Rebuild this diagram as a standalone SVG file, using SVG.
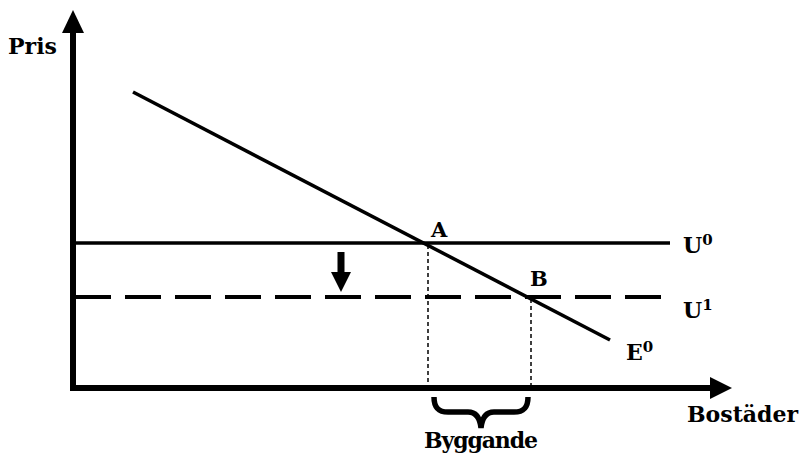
<svg xmlns="http://www.w3.org/2000/svg" width="803" height="455" viewBox="0 0 803 455">
<style>
.lbl{font-family:"DejaVu Serif","Liberation Serif",serif;font-weight:bold;fill:#000;font-size:22px}
.sm{font-size:21px}
.sup{font-size:15px}
.ln{stroke:#000;fill:none}
</style>
<rect width="803" height="455" fill="#fff"/>
<g id="connectors">
  <line class="ln" x1="73" y1="30" x2="73" y2="391" stroke-width="6"/>
  <polygon points="73,10 62,33 84,33" fill="#000"/>
  <line class="ln" x1="70" y1="388" x2="712" y2="388" stroke-width="6"/>
  <polygon points="732,388 710,377 710,399" fill="#000"/>
  <line class="ln" x1="73" y1="243" x2="670" y2="243" stroke-width="3.5"/>
  <line class="ln" x1="75" y1="297" x2="663" y2="297" stroke-width="4" stroke-dasharray="36 14"/>
  <line class="ln" x1="133" y1="92" x2="610" y2="340" stroke-width="3.5"/>
  <line class="ln" x1="428" y1="245" x2="428" y2="386" stroke-width="1.5" stroke-dasharray="4 3"/>
  <line class="ln" x1="531" y1="299" x2="531" y2="386" stroke-width="1.5" stroke-dasharray="4 3"/>
  <rect x="337.5" y="252" width="7" height="21" fill="#000"/>
  <polygon points="331,272 351,272 341,292" fill="#000"/>
  <path class="ln" stroke-width="5.5" d="M434,397 C434,407 438,412 448,412 L468,412 C476,412 480,418 481,428 C482,418 486,412 494,412 L514,412 C524,412 528,407 528,397"/>
</g>
<g id="pris"><text class="lbl" x="8" y="54">Pris</text></g>
<g id="A"><text class="lbl sm" x="431" y="237">A</text></g>
<g id="B"><text class="lbl sm" x="530" y="286">B</text></g>
<g id="U0"><text class="lbl" x="683" y="253">U<tspan class="sup" dy="-8">0</tspan></text></g>
<g id="U1"><text class="lbl" x="683" y="318">U<tspan class="sup" dy="-8">1</tspan></text></g>
<g id="E0"><text class="lbl" x="626" y="360">E<tspan class="sup" dy="-8">0</tspan></text></g>
<g id="bostader"><text class="lbl" x="687" y="422">Bostäder</text></g>
<g id="byggande"><text class="lbl" x="481" y="448" text-anchor="middle" textLength="114">Byggande</text></g>
</svg>
